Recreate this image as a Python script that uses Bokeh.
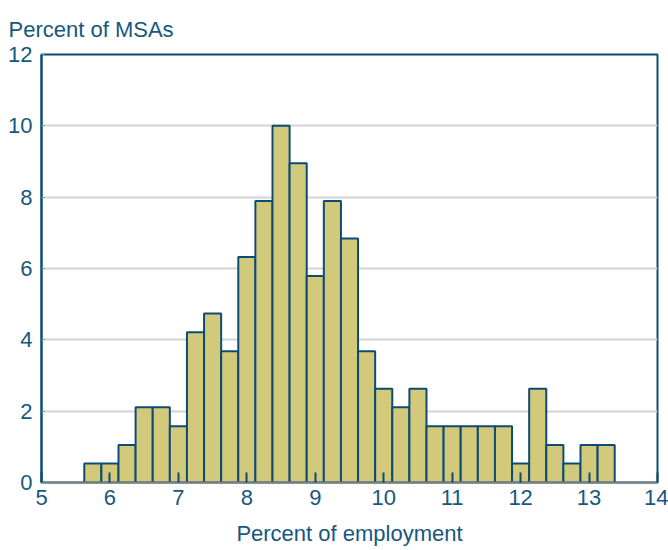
from bokeh.plotting import figure
from bokeh.models import FixedTicker, Title, ColumnDataSource
from bokeh.embed import file_html
from bokeh.resources import INLINE

# Histogram bins (centre of each 0.25-wide bin, percent of employment)
bin_centers = [5.75, 6.0, 6.25, 6.5, 6.75, 7.0, 7.25, 7.5, 7.75, 8.0, 8.25,
               8.5, 8.75, 9.0, 9.25, 9.5, 9.75, 10.0, 10.25, 10.5, 10.75,
               11.0, 11.25, 11.5, 11.75, 12.0, 12.25, 12.5, 12.75, 13.0, 13.25]
bin_width = 0.25
# Percent of MSAs in each bin
pct_msas = [0.53, 0.53, 1.05, 2.11, 2.11, 1.58, 4.21, 4.74, 3.68, 6.32, 7.89,
            10.0, 8.95, 5.79, 7.89, 6.84, 3.68, 2.63, 2.11, 2.63, 1.58,
            1.58, 1.58, 1.58, 1.58, 0.53, 2.63, 1.05, 0.53, 1.05, 1.05]
x_ticks = [5, 6, 7, 8, 9, 10, 11, 12, 13, 14]
y_ticks = [0, 2, 4, 6, 8, 10, 12]

TEXT = "#17577e"
EDGE = "#0c4c74"
FILL = "#d3c97a"
FONT = "Liberation Sans"
FS = "22px"

src = ColumnDataSource(dict(x=bin_centers, top=pct_msas))

p = figure(width=668, height=548, x_range=(5, 14), y_range=(0, 12),
           output_backend="svg", toolbar_location=None,
           min_border_left=41, min_border_right=11, min_border_top=54,
           min_border_bottom=50)

p.title.visible = False
t = Title(text="Percent of MSAs", text_font=FONT, text_font_size=FS,
          text_font_style="normal", text_color=TEXT, align="left", offset=-33,
          standoff=22, vertical_align="top")
p.add_layout(t, "above")

p.vbar(x="x", width=bin_width, top="top", bottom=0, source=src,
       fill_color=FILL, line_color=EDGE, line_width=2)

p.outline_line_color = EDGE
p.outline_line_width = 2
p.outline_line_alpha = 1

p.xgrid.visible = False
p.ygrid.grid_line_color = "#d4d4d4"
p.ygrid.grid_line_width = 2

p.xaxis.ticker = FixedTicker(ticks=x_ticks)
p.yaxis.ticker = FixedTicker(ticks=y_ticks)
p.xaxis.minor_tick_line_color = None
p.yaxis.minor_tick_line_color = None

p.xaxis.axis_line_color = "#808080"
p.xaxis.axis_line_width = 2
p.xaxis.major_tick_line_color = EDGE
p.xaxis.major_tick_line_width = 2
p.xaxis.major_tick_in = 10
p.xaxis.major_tick_out = 0
p.xaxis.axis_label = "Percent of employment"
p.xaxis.axis_label_standoff = 13

p.yaxis.axis_line_color = EDGE
p.yaxis.axis_line_width = 2
p.yaxis.major_tick_line_color = "#2eb872"
p.yaxis.major_tick_line_width = 1
p.yaxis.major_tick_in = 3
p.yaxis.major_tick_out = 0
p.yaxis.major_label_standoff = 9

for ax in (p.xaxis, p.yaxis):
    ax.major_label_text_font = FONT
    ax.major_label_text_font_size = FS
    ax.major_label_text_color = TEXT
    ax.axis_label_text_font = FONT
    ax.axis_label_text_font_size = FS
    ax.axis_label_text_font_style = "normal"
    ax.axis_label_text_color = TEXT
p.xaxis.major_label_standoff = 7

open("out.html", "w").write(file_html(p, INLINE))
